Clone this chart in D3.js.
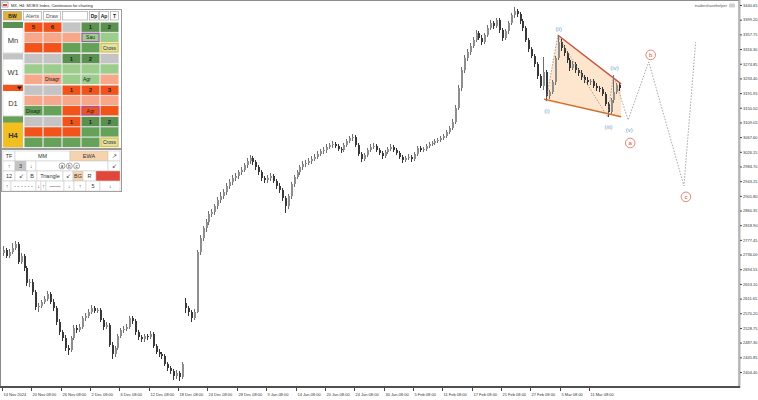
<!DOCTYPE html>
<meta charset="utf-8">
<style>
body { margin: 0; background: #fff; }
svg { display: block; font-family: "Liberation Sans", Arial, sans-serif; }
</style>
<body>
<script src="https://cdn.jsdelivr.net/npm/d3@7"></script>
<script>

// ---- price data (H4 bars) ----
var opens = [
2740,2749,2732,2744,2755,2766,2715,2732,2698,2656,
2659,2630,2588,2591,2602,2611,2625,2602,2585,2546,
2517,2500,2472,2467,2500,2529,2523,2532,2557,2563,
2574,2585,2577,2579,2551,2532,2537,2481,2455,2472,
2506,2523,2526,2532,2557,2549,2517,2503,2498,2506,
2503,2512,2478,2461,2455,2450,2427,2416,2407,2393,
2402,2390,2600,2585,2574,2557,2575,2744,2783,2811,
2828,2851,2856,2873,2890,2901,2913,2930,2941,2952,
2958,2969,2975,2989,3000,3009,2997,2983,2969,2952,
2946,2952,2958,2944,2930,2918,2896,2873,2901,2935,
2955,2969,2983,2992,2995,3000,3006,3012,3020,3028,
3031,3040,3045,3048,3043,3034,3031,3045,3057,3065,
3068,3045,3020,3006,3017,3031,3040,3043,3031,3023,
3014,3026,3034,3040,3031,3023,3012,3003,3009,3012,
3006,3020,3037,3031,3034,3043,3048,3051,3057,3059,
3065,3071,3082,3093,3110,3150,3206,3257,3291,3308,
3325,3342,3362,3348,3336,3356,3376,3390,3381,3398,
3370,3348,3367,3390,3412,3424,3415,3395,3376,3342,
3316,3297,3274,3240,3212,3251,3184,3195,3223,3291,
3336,3319,3305,3285,3263,3274,3257,3249,3237,3229,
3223,3226,3212,3206,3203,3190,3162,3139,3172,3195,
3215];
var highs = [
2760,2755,2752,2768,2775,2772,2741,2738,2705,2668,
2666,2636,2600,2609,2620,2634,2630,2610,2590,2553,
2524,2508,2480,2506,2536,2537,2540,2563,2571,2582,
2593,2590,2586,2584,2557,2545,2542,2488,2478,2512,
2530,2533,2540,2563,2562,2553,2522,2508,2512,2511,
2519,2516,2483,2468,2461,2455,2432,2422,2412,2410,
2408,2432,2612,2590,2580,2581,2750,2792,2818,2836,
2858,2866,2880,2899,2912,2920,2938,2949,2960,2966,
2976,2983,2995,3008,3018,3014,3003,2990,2975,2958,
2960,2966,2963,2950,2937,2924,2902,2906,2941,2962,
2976,2990,2999,3003,3008,3013,3019,3027,3035,3039,
3047,3052,3056,3055,3049,3040,3051,3063,3072,3076,
3073,3050,3026,3022,3038,3047,3050,3048,3037,3029,
3032,3041,3047,3046,3036,3028,3017,3015,3019,3018,
3026,3043,3042,3040,3049,3055,3058,3063,3066,3071,
3077,3089,3100,3118,3158,3214,3266,3299,3316,3333,
3350,3370,3368,3355,3362,3384,3398,3396,3405,3404,
3376,3372,3396,3418,3435,3430,3420,3400,3381,3348,
3322,3303,3280,3246,3294,3256,3200,3230,3298,3353,
3344,3327,3312,3292,3282,3280,3263,3256,3243,3236,
3233,3232,3219,3212,3208,3195,3168,3178,3243,3221,
3222];
var lows = [
2731,2725,2726,2738,2749,2708,2709,2690,2648,2645,
2622,2580,2575,2584,2595,2604,2596,2576,2538,2510,
2492,2463,2452,2460,2494,2514,2516,2526,2549,2556,
2568,2570,2570,2545,2524,2525,2474,2440,2447,2466,
2500,2515,2519,2527,2541,2510,2495,2489,2490,2496,
2497,2472,2455,2446,2442,2420,2408,2398,2382,2386,
2378,2385,2570,2562,2545,2550,2570,2736,2775,2800,
2820,2842,2848,2865,2882,2893,2905,2922,2933,2944,
2950,2961,2968,2981,2993,2990,2976,2962,2944,2938,
2939,2945,2937,2922,2910,2888,2853,2866,2894,2928,
2948,2962,2976,2984,2988,2993,2999,3005,3013,3021,
3024,3033,3038,3036,3027,3024,3025,3039,3050,3058,
3040,3014,2996,3000,3011,3025,3034,3025,3017,3006,
3008,3019,3028,3025,3016,3005,2995,2997,3002,2998,
3000,3014,3025,3026,3028,3036,3042,3045,3050,3053,
3059,3064,3076,3087,3104,3143,3198,3249,3283,3300,
3318,3335,3341,3328,3330,3349,3369,3374,3375,3362,
3340,3342,3360,3384,3405,3408,3388,3368,3335,3308,
3290,3267,3232,3205,3200,3169,3176,3188,3216,3284,
3312,3298,3278,3255,3256,3250,3241,3230,3220,3215,
3216,3205,3199,3196,3183,3155,3124,3132,3165,3188,
3199];
var closes = [
2749,2732,2744,2755,2766,2715,2732,2698,2656,2659,
2630,2588,2591,2602,2611,2625,2602,2585,2546,2517,
2500,2472,2467,2500,2529,2523,2532,2557,2563,2574,
2585,2577,2579,2551,2532,2537,2481,2455,2472,2506,
2523,2526,2532,2557,2549,2517,2503,2498,2506,2503,
2512,2478,2461,2455,2450,2427,2416,2407,2393,2402,
2390,2427,2585,2574,2557,2574,2744,2783,2811,2828,
2851,2856,2873,2890,2901,2913,2930,2941,2952,2958,
2969,2975,2989,3000,3009,2997,2983,2969,2952,2946,
2952,2958,2944,2930,2918,2896,2873,2901,2935,2955,
2969,2983,2992,2995,3000,3006,3012,3020,3028,3031,
3040,3045,3048,3043,3034,3031,3045,3057,3065,3068,
3045,3020,3006,3017,3031,3040,3043,3031,3023,3014,
3026,3034,3040,3031,3023,3012,3003,3009,3012,3006,
3020,3037,3031,3034,3043,3048,3051,3057,3059,3065,
3071,3082,3093,3110,3150,3206,3257,3291,3308,3325,
3342,3362,3348,3336,3356,3376,3390,3381,3398,3370,
3348,3367,3390,3412,3424,3415,3395,3376,3342,3316,
3297,3274,3240,3212,3251,3184,3195,3223,3291,3336,
3319,3305,3285,3263,3274,3257,3249,3237,3229,3223,
3226,3212,3206,3203,3190,3162,3139,3172,3195,3215,
3206];

// axis labels
var yTicks = [2404.40,2445.85,2487.30,2528.75,2570.20,2611.65,2653.10,2694.55,2736.00,2777.45,
  2818.90,2860.35,2901.80,2943.25,2984.70,3026.15,3067.60,3109.05,3150.50,3191.95,
  3233.40,3274.85,3316.30,3357.75,3399.20,3440.65];
var xTickBars = [0,10,20,30,40,50,60,70,80,90,100,110,120,130,140,150,160,170,180,190,200];
var xTickLabels = ["14 Nov 2024","20 Nov 08:00","26 Nov 08:00","2 Dec 08:00","6 Dec 08:00",
  "12 Dec 08:00","18 Dec 08:00","24 Dec 08:00","28 Dec 08:00","9 Jan 08:00","14 Jan 08:00",
  "20 Jan 08:00","24 Jan 08:00","30 Jan 08:00","5 Feb 08:00","11 Feb 08:00","17 Feb 08:00",
  "21 Feb 08:00","27 Feb 08:00","5 Mar 08:00","11 Mar 08:00"];

// wave markup: [bar, price]
var wedgeUpper = [[189, 3356], [210.6, 3218]];
var wedgeLower = [[184.3, 3175], [210.6, 3125]];
var wavePath = [[185, 3169], [189, 3353], [206, 3124], [208, 3243], [213, 3116], [220, 3280], [232, 2930], [236, 3336]];
var minorNames = ["(i)", "(ii)", "(iii)", "(iv)", "(v)"];
var majorNames = ["a", "b", "c"];

// side panel
var headerBtns = [["BW",3,19],["Alerts",23,19],["Draw",43,18],["",62,26],["Dp",89,10],["Ap",99,10],["T",110,9]];
var tfNames = ["Mn","W1","D1","H4"];
var tfStrip = ["G","Y","O","M"];
var tfGrid = [
  [[["O","5"],["O","6"],["Y",""],["D","1"],["D","2"]],
   [["S",""],["S",""],["S",""],["L","Sau","p"],["L",""]],
   [["O",""],["O",""],["M",""],["M",""],["B","Cross","g"]]],
  [[["Y",""],["Y",""],["D","1"],["D","2"],["Y",""]],
   [["L",""],["L",""],["L",""],["L",""],["L",""]],
   [["S",""],["S","Disagr"],["L",""],["L","Agr"],["S",""]]],
  [[["Y",""],["Y",""],["O","1"],["O","2"],["O","3"]],
   [["S",""],["S",""],["S",""],["S",""],["S",""]],
   [["M","Disagr"],["M",""],["O",""],["O","Agr","p"],["O",""]]],
  [[["Y",""],["Y",""],["O","1"],["D","1"],["D","2"]],
   [["O",""],["O",""],["O",""],["M",""],["M",""]],
   [["M",""],["M",""],["M",""],["M",""],["B","Cross","g"]]]
];
var toolRows = [
  [["TF",3,12,"W"],["MM",15,55,"W"],["EWA",70,38,"E"],["\u2197",108,12,"W"]],
  [["\u2191",3,12,"W"],["3",15,11,"Y"],["\u2193",26,10,"W"],["",36,72,"W"],["\u2199",108,12,"W"]],
  [["12",3,12,"W"],["\u2199",15,12,"W"],["B",27,10,"W"],["Triangle",37,26,"W"],["\u2199",63,10,"W"],["BG",73,10,"E"],["R",83,13,"W"],["",96,24,"R"]],
  [["\u2191",3,8,"W"],["- - - - - -",11,25,"W"],["\u2193",36,5,"W"],["\u2191",41,5,"W"],["\u2014\u2014",46,18,"W"],["\u2193",64,10,"W"],["\u2191",74,12,"W"],["5",86,14,"W"],["\u2193",100,20,"W"]]
];

var fills = {O:"#f2531a", S:"#f7a88b", Y:"#c4c4c4", D:"#5b9050", L:"#9dcd8c", M:"#65a159",
  G:"#5b9050", B:"#dfe4a6", W:"#ffffff", E:"#f6d3ac", R:"#e2463a"};
var borders = {p:"#9b4fc0", g:"#e6b830"};

// ---- layout ----
var width = 758, height = 400,
    plotRight = 739, plotBottom = 386;

var svg = d3.select("body").append("svg")
    .attr("width", width)
    .attr("height", height);

var x = d3.scaleLinear().domain([0, 210]).range([3, 619.35]);
var y = d3.scaleLinear().domain([2404.40, 3440.65]).range([372, 5]);

// chart frame
svg.append("rect")
    .attr("x", 0.5).attr("y", 0.5)
    .attr("width", plotRight - 0.5).attr("height", plotBottom)
    .attr("fill", "#fff").attr("stroke", "#8c8c8c");

// wedge shading
var wedgePoly = [wavePath[0], wedgeUpper[0], wedgeUpper[1], wedgeLower[1]];
svg.append("path")
    .attr("d", "M" + wedgePoly.map(function(p) { return x(p[0]) + "," + y(p[1]); }).join("L") + "Z")
    .attr("fill", "#fde2c4")
    .attr("opacity", 0.85);

// candles
var bars = closes.map(function(c, i) {
  return {i: i, o: opens[i], h: highs[i], l: lows[i], c: c};
});
var cg = svg.append("g").attr("shape-rendering", "crispEdges");
cg.selectAll("line").data(bars).enter().append("line")
    .attr("x1", function(d) { return Math.round(x(d.i)) + 0.5; })
    .attr("x2", function(d) { return Math.round(x(d.i)) + 0.5; })
    .attr("y1", function(d) { return y(d.h); })
    .attr("y2", function(d) { return y(d.l); })
    .attr("stroke", function(d) { return d.c >= d.o ? "#6e6e6e" : "#333"; });
cg.selectAll("rect").data(bars).enter().append("rect")
    .attr("x", function(d) { return Math.round(x(d.i)); })
    .attr("width", 2)
    .attr("y", function(d) { return y(Math.max(d.o, d.c)); })
    .attr("height", function(d) { return Math.max(1, Math.abs(y(d.o) - y(d.c))); })
    .attr("fill", function(d) { return d.c >= d.o ? "#8e8e8e" : "#383838"; });

// wedge lines
var line = d3.line().x(function(p) { return x(p[0]); }).y(function(p) { return y(p[1]); });
svg.append("path").attr("d", line(wedgeUpper)).attr("stroke", "#c5553f").attr("stroke-width", 1.4).attr("fill", "none");
svg.append("path").attr("d", line(wedgeLower)).attr("stroke", "#cf6d2c").attr("stroke-width", 1.4).attr("fill", "none");

// wave path
svg.append("path")
    .attr("d", line(wavePath))
    .attr("fill", "none")
    .attr("stroke", "#8e8e8e")
    .attr("stroke-width", 0.8)
    .attr("stroke-dasharray", "1.5,1.5");

// minor wave labels (lows below, highs above)
svg.selectAll("text.minor").data(minorNames).enter().append("text")
    .attr("class", "minor")
    .attr("x", function(d, i) { return x(wavePath[i][0]) + 1; })
    .attr("y", function(d, i) { return y(wavePath[i][1]) + (i % 2 === 0 ? 12 : -5); })
    .attr("text-anchor", "middle")
    .attr("font-size", 6)
    .attr("fill", "#6d9fd0")
    .text(function(d) { return d; });

// major wave circles a b c (at the ends of the (v), b and c legs)
var majorDy = [23, -7, 11];
var mg = svg.selectAll("g.major").data(majorNames).enter().append("g")
    .attr("transform", function(d, i) {
      var p = wavePath[4 + i];
      return "translate(" + (x(p[0]) + 2) + "," + (y(p[1]) + majorDy[i]) + ")";
    });
mg.append("circle").attr("r", 4.8).attr("fill", "#fff").attr("stroke", "#e07a68").attr("stroke-width", 0.9);
mg.append("text").attr("text-anchor", "middle").attr("dy", 2).attr("font-size", 6)
    .attr("fill", "#d5523e").text(function(d) { return d; });

// right price axis
svg.append("line").attr("x1", plotRight + 0.5).attr("x2", plotRight + 0.5)
    .attr("y1", 0).attr("y2", plotBottom + 2).attr("stroke", "#b4b4b4").attr("stroke-width", 2);
svg.append("g")
    .attr("transform", "translate(" + (plotRight + 1) + ",0)")
    .call(d3.axisRight(y).tickValues(yTicks).tickSize(2).tickPadding(1).tickFormat(d3.format(".2f")))
    .attr("font-size", 4).attr("font-family", null)
    .call(function(g) { g.select(".domain").remove(); })
    .call(function(g) { g.selectAll("line").attr("stroke", "#444"); g.selectAll("text").attr("fill", "#333"); });

// bottom time axis
svg.append("line").attr("x1", 0).attr("x2", plotRight + 1)
    .attr("y1", plotBottom + 1).attr("y2", plotBottom + 1).attr("stroke", "#505050").attr("stroke-width", 2);
svg.append("g")
    .attr("transform", "translate(0," + (plotBottom + 2) + ")")
    .call(d3.axisBottom(x).tickValues(xTickBars).tickSize(3).tickPadding(2)
      .tickFormat(function(d, i) { return xTickLabels[i]; }))
    .attr("font-size", 4).attr("font-family", null)
    .call(function(g) { g.select(".domain").remove(); })
    .call(function(g) {
      g.selectAll(".tick").attr("transform", function(d) { return "translate(" + (Math.round(x(d)) - 0.5) + ",0)"; });
      g.selectAll("line").attr("stroke", "#444");
      g.selectAll("text").attr("text-anchor", "start").attr("x", 1).attr("fill", "#333");
    });

// title and watermark
svg.append("rect").attr("x", 2).attr("y", 2).attr("width", 6).attr("height", 5).attr("fill", "#fff").attr("stroke", "#777").attr("stroke-width", 0.6);
svg.append("rect").attr("x", 3).attr("y", 4).attr("width", 4).attr("height", 2).attr("fill", "#d24a3a");
svg.append("text").attr("x", 11).attr("y", 6.5).attr("font-size", 4).attr("fill", "#222")
    .text("MX, H4: MOEX Index, Continuous for charting");
svg.append("text").attr("x", 727).attr("y", 7).attr("font-size", 4).attr("fill", "#555")
    .attr("text-anchor", "end").text("tradershavehelper");
svg.append("rect").attr("x", 729).attr("y", 3.5).attr("width", 6).attr("height", 4).attr("rx", 1).attr("fill", "#cfcfcf");

// ---- side panel ----
var pg = svg.append("g");
pg.append("rect").attr("x", 1.5).attr("y", 9.5).attr("width", 120).attr("height", 139)
    .attr("fill", "#fff").attr("stroke", "#9a9a9a");

headerBtns.forEach(function(b, i) {
  pg.append("rect").attr("x", b[1] + 0.5).attr("y", 11.5).attr("width", b[2] - 1).attr("height", 8.5)
      .attr("fill", i === 0 ? "#e0b13e" : "#fff").attr("stroke", "#9a9a9a").attr("stroke-width", 0.6);
  pg.append("text").attr("x", b[1] + b[2] / 2).attr("y", 17.6).attr("text-anchor", "middle")
      .attr("font-size", i === 0 || i > 3 ? 5 : 5.2).attr("font-weight", i === 0 || i > 3 ? "bold" : null)
      .attr("fill", i === 0 || i > 3 ? "#222" : "#555").text(b[0]);
});

var blockTop = [22, 53.5, 85, 116.5], rowH = 10.3, colX = [24, 43, 62, 81, 100], colW = 19;
tfNames.forEach(function(name, b) {
  var top = blockTop[b];
  // label cell
  pg.append("rect").attr("x", 3).attr("y", top).attr("width", 20).attr("height", rowH * 3)
      .attr("fill", name === "H4" ? "#f1bf1f" : "#fff").attr("stroke", "#c8c8c8").attr("stroke-width", 0.5);
  pg.append("rect").attr("x", 3).attr("y", top).attr("width", 20).attr("height", 6)
      .attr("fill", fills[tfStrip[b]]);
  if (name === "D1") {
    pg.append("path").attr("d", "M17,1.5L22,1.5L19.5,5Z").attr("transform", "translate(0," + top + ")").attr("fill", "#111");
  }
  pg.append("text").attr("x", 13).attr("y", top + 21).attr("text-anchor", "middle")
      .attr("font-size", 7.5).attr("font-weight", name === "H4" ? "bold" : null)
      .attr("fill", "#333").text(name);
  tfGrid[b].forEach(function(row, r) {
    row.forEach(function(cell, c) {
      var cx = colX[c], cy = top + r * rowH;
      pg.append("rect").attr("x", cx + 0.25).attr("y", cy + 0.25).attr("width", colW - 0.5).attr("height", rowH - 0.5)
          .attr("fill", fills[cell[0]]).attr("stroke", "#e9e9e9").attr("stroke-width", 0.4);
      if (cell[2]) {
        pg.append("rect").attr("x", cx + 1).attr("y", cy + 1).attr("width", colW - 2).attr("height", rowH - 2)
            .attr("fill", "none").attr("stroke", borders[cell[2]]).attr("stroke-width", 1);
      }
      if (cell[1]) {
        var isNum = /^\d$/.test(cell[1]);
        pg.append("text")
            .attr("x", isNum || cell[2] ? cx + colW / 2 : cx + 2)
            .attr("y", cy + rowH / 2 + 2)
            .attr("text-anchor", isNum || cell[2] ? "middle" : "start")
            .attr("font-size", isNum ? 6 : 5)
            .attr("font-weight", isNum ? "bold" : null)
            .attr("fill", "#222").text(cell[1]);
      }
    });
  });
});

// tool box
pg.append("rect").attr("x", 1.5).attr("y", 149.5).attr("width", 120).attr("height", 42)
    .attr("fill", "#fff").attr("stroke", "#9a9a9a");
toolRows.forEach(function(row, r) {
  var ty = 151 + r * 10;
  row.forEach(function(cell) {
    pg.append("rect").attr("x", cell[1]).attr("y", ty).attr("width", cell[2]).attr("height", 10)
        .attr("fill", fills[cell[3]]).attr("stroke", "#c4c4c4").attr("stroke-width", 0.5);
    if (cell[0]) {
      pg.append("text").attr("x", cell[1] + cell[2] / 2).attr("y", ty + 7.2).attr("text-anchor", "middle")
          .attr("font-size", 5.5).attr("fill", "#333").text(cell[0]);
    }
  });
});
["a", "b", "c"].forEach(function(t, i) {
  var cx = 62 + i * 7.3;
  pg.append("circle").attr("cx", cx).attr("cy", 166).attr("r", 3).attr("fill", "#fff").attr("stroke", "#555").attr("stroke-width", 0.5);
  pg.append("text").attr("x", cx).attr("y", 167.8).attr("text-anchor", "middle").attr("font-size", 4.5).attr("fill", "#333").text(t);
});

</script>
</body>
